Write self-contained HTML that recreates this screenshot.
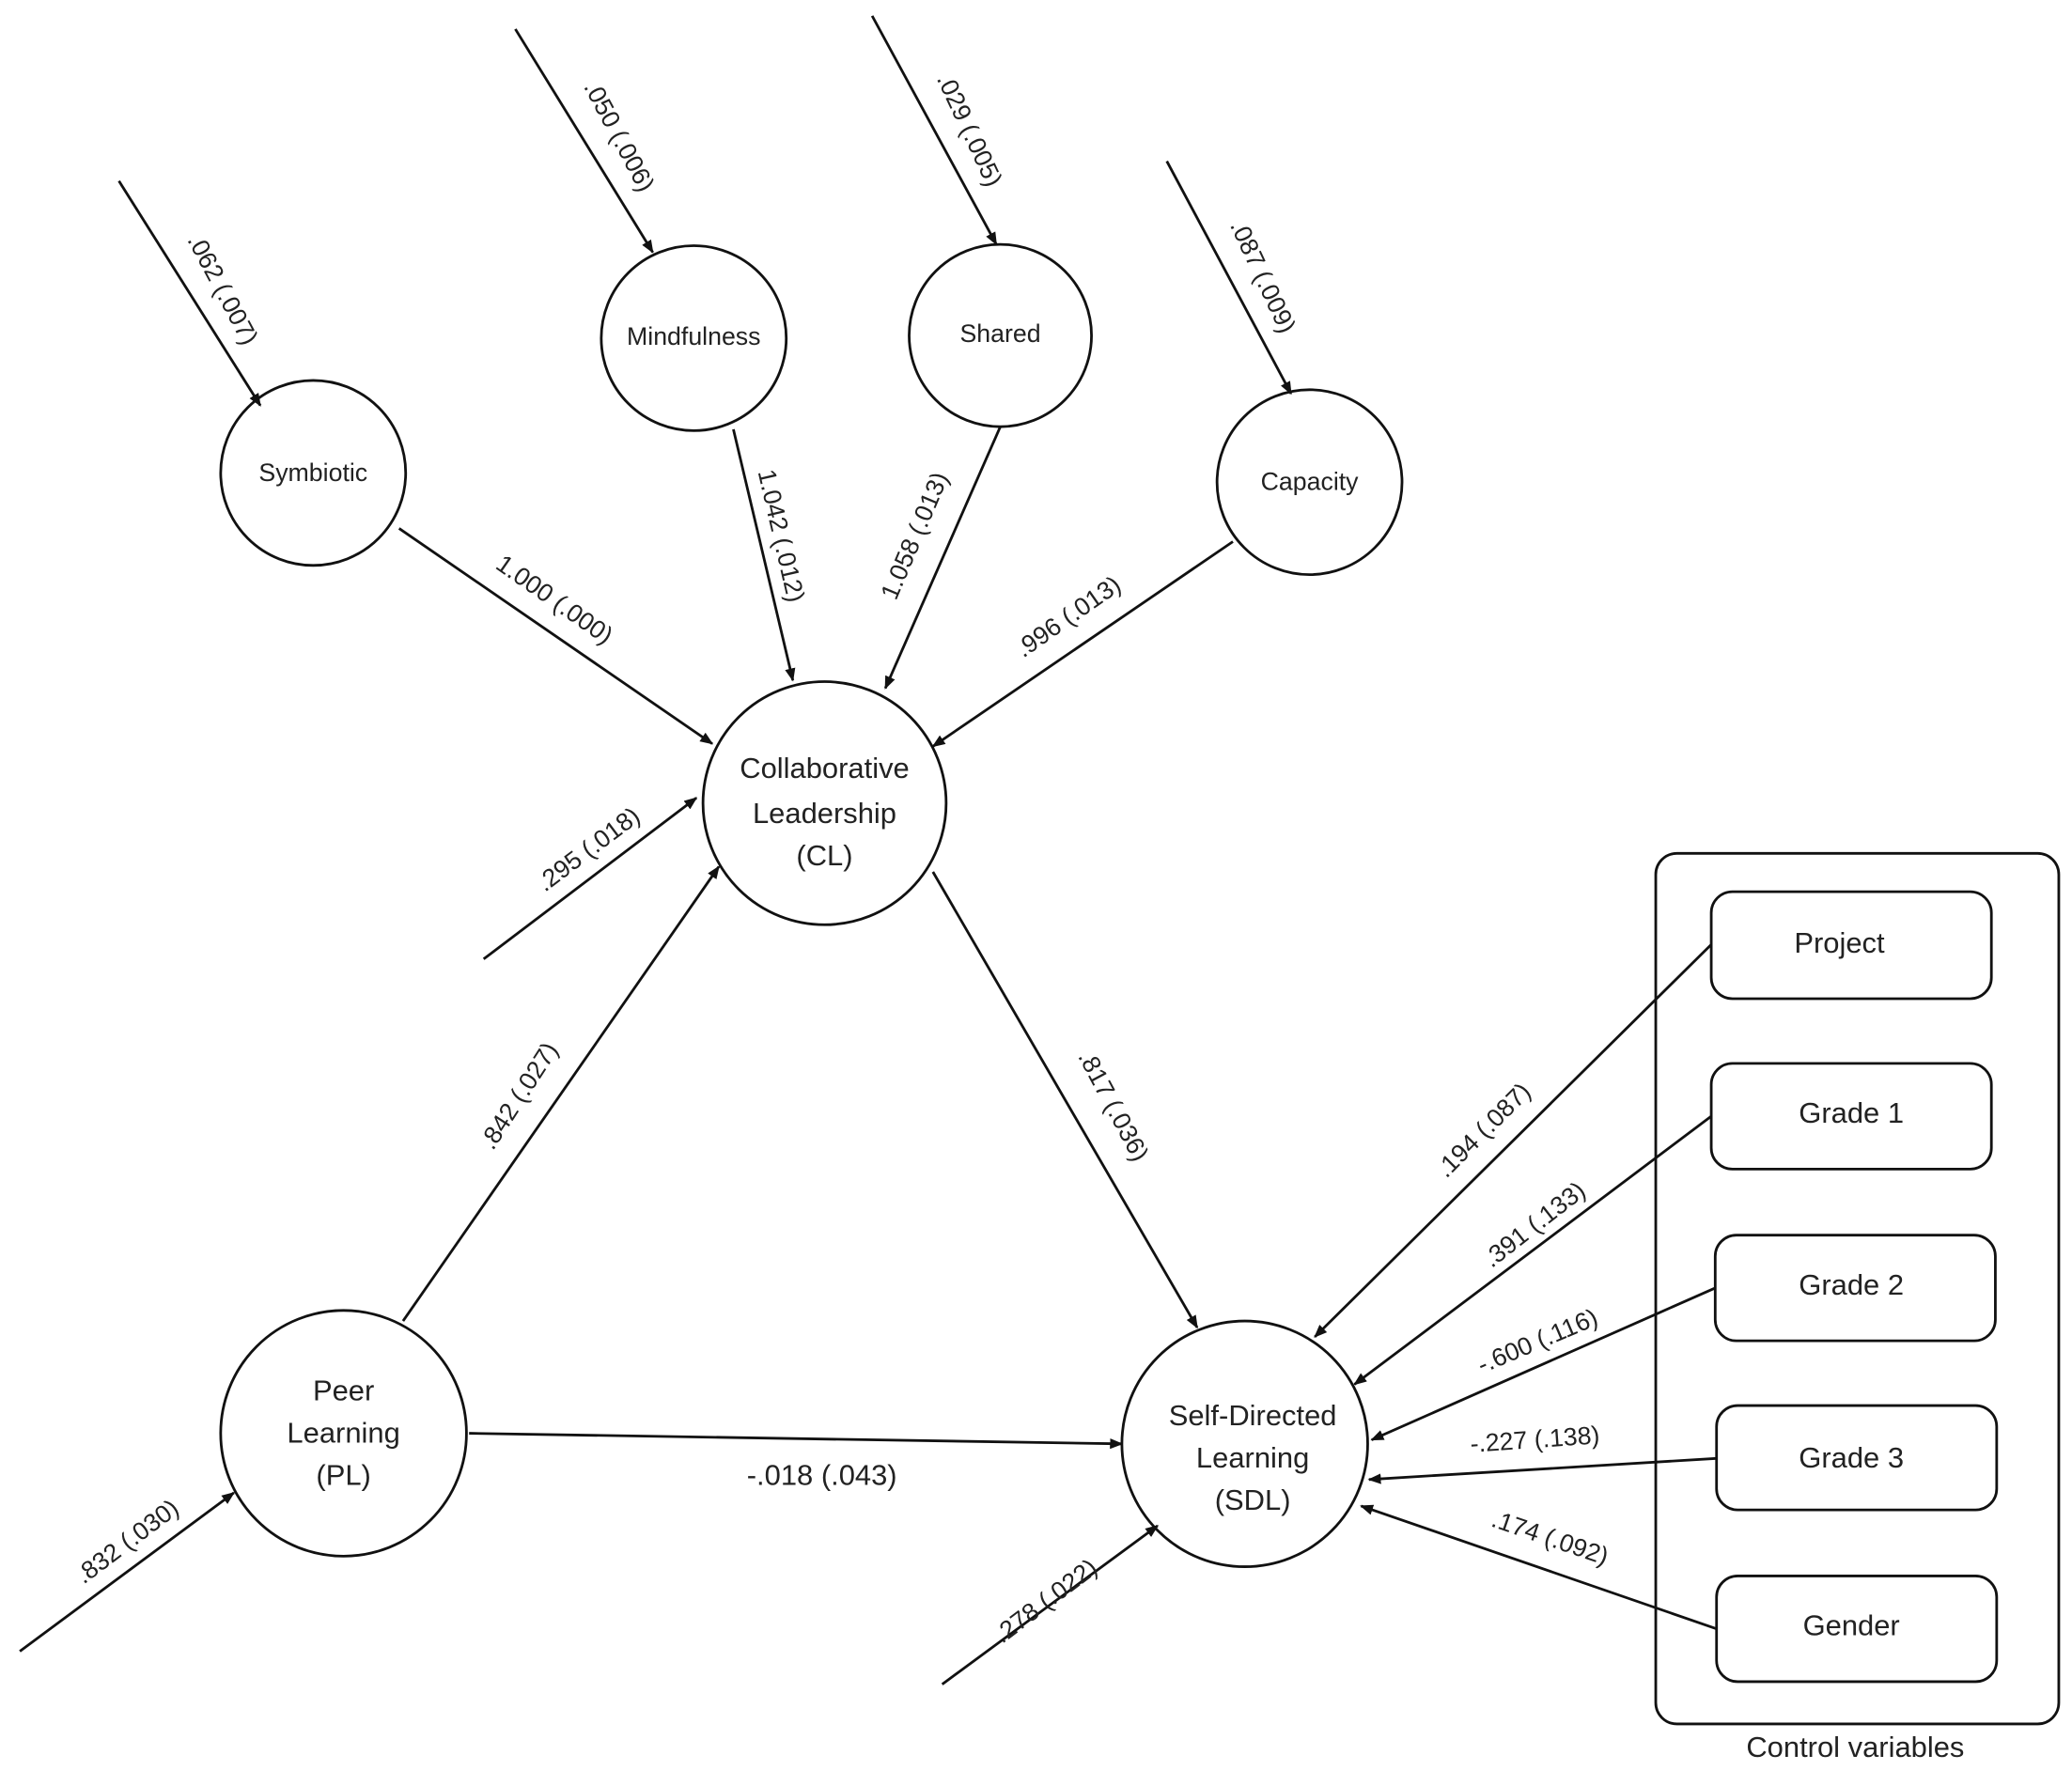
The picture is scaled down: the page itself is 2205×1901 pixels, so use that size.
<!DOCTYPE html>
<html><head><meta charset="utf-8"><style>
html,body{margin:0;padding:0;background:#fff;}
svg{display:block;}
text{font-family:"Liberation Sans","DejaVu Sans",sans-serif;fill:#222;}
.n{font-size:19px;text-anchor:middle;}
.b{font-size:22px;text-anchor:middle;}
.e{font-size:19px;text-anchor:middle;}
</style></head><body>
<svg width="2205" height="1901" viewBox="0 0 1568 1352" preserveAspectRatio="none" xmlns="http://www.w3.org/2000/svg">
<defs><marker id="a" markerWidth="10" markerHeight="8" refX="9" refY="4" orient="auto" markerUnits="userSpaceOnUse"><path d="M0,0 L10,4 L0,8 z" fill="#111"/></marker></defs>
<g stroke="#111" stroke-width="2" fill="#fff">
<circle cx="237" cy="358" r="70"/>
<circle cx="525" cy="256" r="70"/>
<circle cx="757" cy="254" r="69"/>
<circle cx="991" cy="365" r="70"/>
<circle cx="624" cy="608" r="92"/>
<circle cx="260" cy="1085" r="93"/>
<circle cx="942" cy="1093" r="93"/>
<rect x="1253" y="646" width="305" height="659" rx="16"/>
<rect x="1295" y="675" width="212" height="81" rx="16"/>
<rect x="1295" y="805" width="212" height="80" rx="16"/>
<rect x="1298" y="935" width="212" height="80" rx="16"/>
<rect x="1299" y="1064" width="212" height="79" rx="16"/>
<rect x="1299" y="1193" width="212" height="80" rx="16"/>
</g>
<g stroke="#111" stroke-width="2" fill="none" marker-end="url(#a)">
<line x1="90" y1="137" x2="197" y2="307"/>
<line x1="390" y1="22" x2="494" y2="191"/>
<line x1="660" y1="12" x2="754" y2="185"/>
<line x1="883" y1="122" x2="977" y2="298"/>
<line x1="366" y1="726" x2="527" y2="604"/>
<line x1="15" y1="1250" x2="177" y2="1130"/>
<line x1="713" y1="1275" x2="876" y2="1155"/>
<line x1="302" y1="400" x2="539" y2="563"/>
<line x1="555" y1="325" x2="600" y2="515"/>
<line x1="757" y1="323" x2="670" y2="521"/>
<line x1="933" y1="410" x2="706" y2="565"/>
<line x1="305" y1="1000" x2="544" y2="656"/>
<line x1="706" y1="660" x2="906" y2="1005"/>
<line x1="355" y1="1085" x2="849" y2="1093"/>
<line x1="1295" y1="715" x2="995" y2="1012"/>
<line x1="1295" y1="845" x2="1025" y2="1048"/>
<line x1="1298" y1="975" x2="1038" y2="1090"/>
<line x1="1299" y1="1104" x2="1036" y2="1120"/>
<line x1="1299" y1="1233" x2="1030" y2="1140"/>
</g>
<text class="n" x="237" y="364">Symbiotic</text>
<text class="n" x="525" y="261">Mindfulness</text>
<text class="n" x="757" y="259">Shared</text>
<text class="n" x="991" y="371">Capacity</text>
<text class="b" x="624" y="589">Collaborative</text>
<text class="b" x="624" y="623">Leadership</text>
<text class="b" x="624" y="655">(CL)</text>
<text class="b" x="260" y="1060">Peer</text>
<text class="b" x="260" y="1092">Learning</text>
<text class="b" x="260" y="1124">(PL)</text>
<text class="b" x="948" y="1079">Self-Directed</text>
<text class="b" x="948" y="1111">Learning</text>
<text class="b" x="948" y="1143">(SDL)</text>
<text class="b" x="1392" y="721">Project</text>
<text class="b" x="1401" y="850">Grade 1</text>
<text class="b" x="1401" y="980">Grade 2</text>
<text class="b" x="1401" y="1111">Grade 3</text>
<text class="b" x="1401" y="1238">Gender</text>
<text class="b" x="1404" y="1330">Control variables</text>
<text class="e" transform="translate(163,222) rotate(62)">.062 (.007)</text>
<text class="e" transform="translate(463,106) rotate(62)">.050 (.006)</text>
<text class="e" transform="translate(728,101) rotate(65)">.029 (.005)</text>
<text class="e" transform="translate(950,212) rotate(65)">.087 (.009)</text>
<text class="e" transform="translate(449,648) rotate(-37)">.295 (.018)</text>
<text class="e" transform="translate(100,1172) rotate(-37)">.832 (.030)</text>
<text class="e" transform="translate(795,1217) rotate(-37)">.278 (.022)</text>
<text class="e" transform="translate(416,459) rotate(35)">1.000 (.000)</text>
<text class="e" transform="translate(585,407) rotate(77)">1.042 (.012)</text>
<text class="e" transform="translate(698,408) rotate(-67)">1.058 (.013)</text>
<text class="e" transform="translate(812,472) rotate(-35)">.996 (.013)</text>
<text class="e" transform="translate(398,833) rotate(-57)">.842 (.027)</text>
<text class="e" transform="translate(837,840) rotate(62)">.817 (.036)</text>
<text class="b" x="622" y="1124">-.018 (.043)</text>
<text class="e" transform="translate(1127,860) rotate(-45)">.194 (.087)</text>
<text class="e" transform="translate(1165,932) rotate(-38)">.391 (.133)</text>
<text class="e" transform="translate(1166,1021) rotate(-23)">-.600 (.116)</text>
<text class="e" transform="translate(1162,1096) rotate(-4)">-.227 (.138)</text>
<text class="e" transform="translate(1171,1170) rotate(19)">.174 (.092)</text>
</svg>
</body></html>
